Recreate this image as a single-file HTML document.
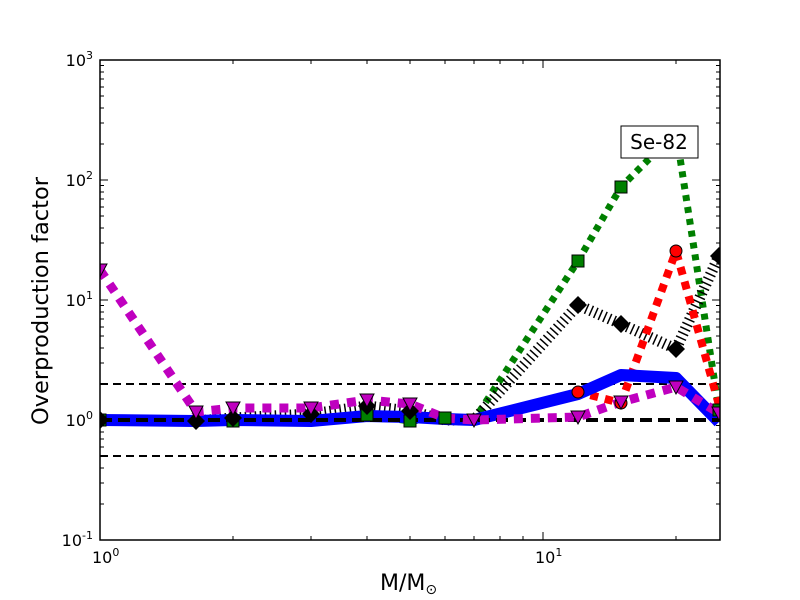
<!DOCTYPE html>
<html><head><meta charset="utf-8"><style>body{margin:0;background:#fff}svg{display:block}</style></head><body>
<svg width="800" height="600" xmlns="http://www.w3.org/2000/svg" font-family="'DejaVu Sans','Liberation Sans',sans-serif">
<rect width="800" height="600" fill="#fff"/>
<defs><clipPath id="c"><rect x="100" y="60" width="620" height="480"/></clipPath></defs>
<g clip-path="url(#c)" fill="none">
<line x1="100" y1="384" x2="720" y2="384" stroke="#000" stroke-width="2" stroke-dasharray="8 5"/>
<line x1="100" y1="456" x2="720" y2="456" stroke="#000" stroke-width="2" stroke-dasharray="8 5"/>
<!-- green -->
<polyline points="100,420 196,420 233,421 311,419 367,415 410,421 445,418 474,420 578,261 621,187 676,132 719,410" stroke="#007f00" stroke-width="7" stroke-dasharray="6 6"/>
<!-- black hatched -->
<polyline points="100,420 196,421 233,418 311,414 367,406 410,411 445,420 474,420 578,305 621,324 676,349 719,256" stroke="#000" stroke-width="11" stroke-dasharray="1.5 3.5"/>
<!-- red -->
<polyline points="100,420 196,420 233,420 311,420 367,416 410,418 445,420 474,421 578,392 621,403 676,251 719,405" stroke="#ff0000" stroke-width="8" stroke-dasharray="8 7"/>
<!-- blue -->
<polyline points="100,420 196,421 233,420 311,421 367,416 410,417 445,419 474,420 578,394 621,375 676,378 719,422" stroke="#0000ff" stroke-width="12" stroke-linejoin="round"/>
<line x1="100" y1="420" x2="720" y2="420" stroke="#000" stroke-width="4" stroke-dasharray="12 6"/>
<!-- magenta -->
<polyline points="100,270 196,412 233,408 311,408 367,400 410,404 445,418 474,420 578,417 621,402 676,387 719,413" stroke="#bf00bf" stroke-width="9" stroke-dasharray="9 8"/>
<g fill="#007f00" stroke="#000" stroke-width="1">
<rect x="94" y="414" width="12" height="12"/><rect x="227" y="415" width="12" height="12"/><rect x="361" y="409" width="12" height="12"/><rect x="404" y="415" width="12" height="12"/><rect x="439" y="412" width="12" height="12"/><rect x="572" y="255" width="12" height="12"/><rect x="615" y="181" width="12" height="12"/><rect x="713" y="404" width="12" height="12"/>
</g>
<g fill="#000">
<path d="M100,411l9,9l-9,9l-9,-9z M196,412l9,9l-9,9l-9,-9z M233,409l9,9l-9,9l-9,-9z M311,405l9,9l-9,9l-9,-9z M367,397l9,9l-9,9l-9,-9z M410,402l9,9l-9,9l-9,-9z M578,296l9,9l-9,9l-9,-9z M621,315l9,9l-9,9l-9,-9z M676,340l9,9l-9,9l-9,-9z M719,247l9,9l-9,9l-9,-9z"/>
</g>
<g fill="#ff0000" stroke="#000" stroke-width="1">
<circle cx="676" cy="251" r="6"/><circle cx="578" cy="392" r="6"/><circle cx="621" cy="403" r="6"/>
</g>
<g fill="#bf00bf" stroke="#000" stroke-width="1">
<path d="M93,264h14l-7,13z M189,406h14l-7,13z M226,402h14l-7,13z M304,402h14l-7,13z M360,394h14l-7,13z M403,398h14l-7,13z M467,414h14l-7,13z M571,411h14l-7,13z M614,396h14l-7,13z M669,381h14l-7,13z M712,407h14l-7,13z"/>
</g>
</g>
<rect x="100" y="60" width="620" height="480" fill="none" stroke="#000" stroke-width="1.5"/>
<g stroke="#000" stroke-width="1">
<path d="M100,60h8M100,180h8M100,300h8M100,420h8M100,540h8M720,60h-8M720,180h-8M720,300h-8M720,420h-8M720,540h-8"/>
<path d="M100,504h4M100,483h4M100,468h4M100,456h4M100,447h4M100,439h4M100,432h4M100,425.5h4
M100,384h4M100,363h4M100,348h4M100,336h4M100,327h4M100,319h4M100,312h4M100,305.5h4
M100,264h4M100,243h4M100,228h4M100,216h4M100,207h4M100,199h4M100,192h4M100,185.5h4
M100,144h4M100,123h4M100,108h4M100,96h4M100,87h4M100,79h4M100,72h4M100,65.5h4
M720,504h-4M720,483h-4M720,468h-4M720,456h-4M720,447h-4M720,439h-4M720,432h-4M720,425.5h-4
M720,384h-4M720,363h-4M720,348h-4M720,336h-4M720,327h-4M720,319h-4M720,312h-4M720,305.5h-4
M720,264h-4M720,243h-4M720,228h-4M720,216h-4M720,207h-4M720,199h-4M720,192h-4M720,185.5h-4
M720,144h-4M720,123h-4M720,108h-4M720,96h-4M720,87h-4M720,79h-4M720,72h-4M720,65.5h-4"/>
<path d="M543,540v-8M543,60v8M233,540v-4M311,540v-4M367,540v-4M410,540v-4M445,540v-4M474,540v-4M500,540v-4M523,540v-4M676,540v-4M233,60v4M311,60v4M367,60v4M410,60v4M445,60v4M474,60v4M500,60v4M523,60v4M676,60v4"/>
</g>
<g font-size="16" fill="#000">
<text x="93" y="66" text-anchor="end">10<tspan dy="-7" font-size="11">3</tspan></text>
<text x="93" y="186" text-anchor="end">10<tspan dy="-7" font-size="11">2</tspan></text>
<text x="93" y="306" text-anchor="end">10<tspan dy="-7" font-size="11">1</tspan></text>
<text x="93" y="426" text-anchor="end">10<tspan dy="-7" font-size="11">0</tspan></text>
<text x="93" y="546" text-anchor="end">10<tspan dy="-7" font-size="11">-1</tspan></text>
<text x="92" y="563">10<tspan dy="-7" font-size="11">0</tspan></text>
<text x="535" y="563">10<tspan dy="-7" font-size="11">1</tspan></text>
</g>
<text x="380" y="590" font-size="22" fill="#000">M/M<tspan font-size="14" dy="4">⊙</tspan></text>
<text transform="translate(48,301) rotate(-90)" font-size="22.5" text-anchor="middle" fill="#000">Overproduction factor</text>
<rect x="621" y="126" width="77" height="32" fill="#fff" stroke="#000" stroke-width="1"/>
<text x="659" y="149" font-size="20" text-anchor="middle" fill="#000">Se-82</text>
</svg>
</body></html>
